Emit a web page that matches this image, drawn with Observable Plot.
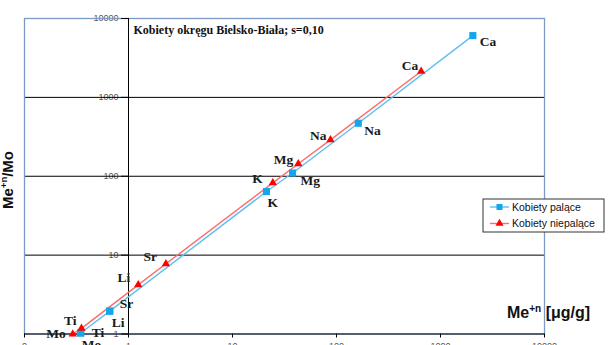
<!DOCTYPE html>
<html><head><meta charset="utf-8">
<script src="https://cdn.jsdelivr.net/npm/d3@7"></script>
<script src="https://cdn.jsdelivr.net/npm/@observablehq/plot@0.6"></script>
<style>body{margin:0;background:#fff}#chart{width:616px;height:345px;overflow:hidden}</style>
</head><body><div id="chart"></div>
<script>
// ---- data ----
const elements = ["Mo", "Ti", "Li", "Sr", "K", "Mg", "Na", "Ca"];
const smokersX = [0.347, 0.347, 0.66, 0.66, 21.2, 37.8, 162, 2046];
const smokersY = [1.03, 1.03, 1.95, 1.95, 64, 110, 470, 6070];
const nonSmokersX = [0.291, 0.353, 1.24, 2.29, 24.4, 42.9, 87.5, 652];
const nonSmokersY = [1.0, 1.18, 4.2, 7.76, 82.5, 144, 289, 2143];
const seriesNames = ["Kobiety palące", "Kobiety niepalące"];
const xTicks = [0.1, 1, 10, 100, 1000, 10000];
const xTickLabels = ["0", "1", "10", "100", "1000", "10000"];
const yTicks = [1, 10, 100, 1000, 10000];
const yTickLabels = ["1", "10", "100", "1000", "10000"];
const gridValues = [10, 100, 1000];
const chartTitle = "Kobiety okręgu Bielsko-Biała; s=0,10";

// ---- layout / style ----
const blueLine = "#5cc0f0", blueDot = "#12a6ec";
const redLine = "#ff6a6a", redDot = "#ff0000";
const labelPlacement = {
  "Kobiety palące": {Mo:[1,12], Ti:[11,0], Li:[2,12], Sr:[10,-7], K:[1,11], Mg:[8,8], Na:[6,7], Ca:[7,6]},
  "Kobiety niepalące": {Mo:[-7,0], Ti:[-5,-8], Li:[-8,-7], Sr:[-9,-7], K:[-10,-4], Mg:[-5,-4], Na:[-4,-4], Ca:[-3,-6]}
};

const smokers = elements.map((e, i) => ({element: e, x: smokersX[i], y: smokersY[i], series: seriesNames[0]}));
const nonSmokers = elements.map((e, i) => ({element: e, x: nonSmokersX[i], y: nonSmokersY[i], series: seriesNames[1]}));

const labelFont = {fontFamily: "Liberation Serif, Times New Roman, serif", fontWeight: "bold", fontSize: 13.5, fill: "#1a1a1a"};
const labelMarks = [];
for (const d of smokers) {
  const [dx, dy] = labelPlacement[d.series][d.element];
  labelMarks.push(Plot.text([d], {x: "x", y: "y", text: "element", dx, dy, textAnchor: "start", lineAnchor: "middle", ...labelFont}));
}
for (const d of nonSmokers) {
  const [dx, dy] = labelPlacement[d.series][d.element];
  labelMarks.push(Plot.text([d], {x: "x", y: "y", text: "element", dx, dy, textAnchor: "end", lineAnchor: "middle", ...labelFont}));
}

const tickFont = {fontFamily: "Liberation Sans, Arial, sans-serif", fontSize: 9, fill: "#555"};

const plot = Plot.plot({
  width: 616, height: 345,
  marginLeft: 24, marginRight: 72, marginTop: 18, marginBottom: 11.5,
  x: {type: "log", domain: [0.1, 10000], axis: null},
  y: {type: "log", domain: [1, 10000], axis: null},
  style: {background: "transparent", overflow: "visible"},
  marks: [
    Plot.text(yTicks, {x: 1, y: d => d, text: (d, i) => yTickLabels[i], textAnchor: "end", lineAnchor: "middle", dx: -10, ...tickFont}),
    Plot.ruleY(gridValues, {stroke: "#000", strokeWidth: 1}),
    Plot.frame({stroke: "#7d9ac6", strokeWidth: 1.3}),
    Plot.ruleY([1], {stroke: "#000", strokeWidth: 1}),
    Plot.ruleX([1], {stroke: "#000", strokeWidth: 1}),
    Plot.ruleY(yTicks, {y: d => d, x1: 1, x2: 1, insetLeft: -7, stroke: "#000"}),
    Plot.ruleX(xTicks, {x: d => d, y1: 1, y2: 1, insetBottom: -4, stroke: "#000"}),
    Plot.text(xTicks, {x: d => d, y: 1, text: (d, i) => xTickLabels[i], dy: 12, lineAnchor: "middle", ...tickFont}),
    Plot.line(smokers, {x: "x", y: "y", stroke: blueLine, strokeWidth: 1.4}),
    Plot.line(nonSmokers, {x: "x", y: "y", stroke: redLine, strokeWidth: 1.4}),
    Plot.dot(smokers, {x: "x", y: "y", symbol: "square", r: 4, fill: blueDot, stroke: "none"}),
    Plot.dot(nonSmokers, {x: "x", y: "y", symbol: "triangle", r: 3.1, fill: redDot, stroke: "none"}),
    ...labelMarks,
    Plot.text([chartTitle], {frameAnchor: "top-left", dx: 109, dy: 11.5, textAnchor: "start", lineAnchor: "middle",
      fontFamily: "Liberation Serif, Times New Roman, serif", fontWeight: "bold", fontSize: 12, fill: "#111"})
  ]
});
document.getElementById("chart").append(plot);

// axis titles and legend
const svg = d3.select(plot);
const sans = "Liberation Sans, Arial, sans-serif";
const xt = svg.append("text").attr("x", 507).attr("y", 318).attr("text-anchor", "start").attr("font-family", sans)
  .attr("font-weight", "bold").attr("font-size", 16).attr("fill", "#111");
xt.append("tspan").text("Me");
xt.append("tspan").attr("font-size", 10).attr("dy", -6).text("+n");
xt.append("tspan").attr("font-size", 16).attr("dy", 6).text(" [μg/g]");

const yt = svg.append("text").attr("transform", "translate(13,180) rotate(-90)").attr("text-anchor", "middle")
  .attr("font-family", sans).attr("font-weight", "bold").attr("font-size", 15).attr("fill", "#111");
yt.append("tspan").text("Me");
yt.append("tspan").attr("font-size", 9.5).attr("dy", -6).text("+n");
yt.append("tspan").attr("font-size", 15).attr("dy", 6).text("/Mo");

const lg = svg.append("g").attr("transform", "translate(483,199)");
lg.append("rect").attr("x", 0).attr("y", 0).attr("width", 121).attr("height", 33)
  .attr("fill", "#fff").attr("stroke", "#333").attr("stroke-width", 1);
const legendItems = [
  {name: seriesNames[0], line: blueLine, dot: blueDot, sym: d3.symbolSquare, size: 36},
  {name: seriesNames[1], line: redLine, dot: redDot, sym: d3.symbolTriangle, size: 28}
];
legendItems.forEach((it, i) => {
  const y = 8 + i * 16.5;
  lg.append("line").attr("x1", 7).attr("x2", 26).attr("y1", y).attr("y2", y).attr("stroke", it.line).attr("stroke-width", 1.4);
  lg.append("path").attr("d", d3.symbol(it.sym, it.size)()).attr("transform", `translate(16.5,${y})`).attr("fill", it.dot);
  lg.append("text").attr("x", 29).attr("y", y).attr("dy", "0.35em").attr("text-anchor", "start").attr("font-family", sans)
    .attr("font-size", 10.5).attr("fill", "#111").text(it.name);
});
</script>
</body></html>
